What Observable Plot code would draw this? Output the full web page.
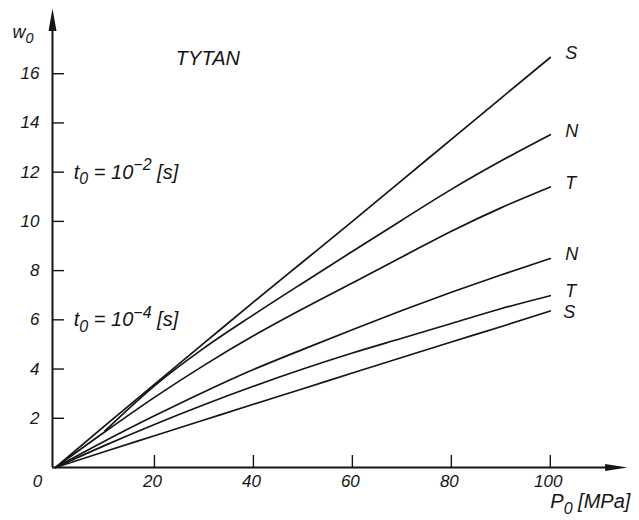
<!DOCTYPE html>
<html>
<head>
<meta charset="utf-8">
<script src="https://cdn.jsdelivr.net/npm/d3@7"></script>
<script src="https://cdn.jsdelivr.net/npm/@observablehq/plot@0.6"></script>
<style>
  html, body { margin: 0; padding: 0; background: #fff; }
  #chart svg { display: block; }
</style>
</head>
<body>
<div id="chart"></div>
<script>
// Pressure p0 [MPa] at which each curve is sampled
const pressure = [0, 10, 20, 30, 40, 50, 60, 70, 80, 90, 100];

// Displacement w0 for t0 = 10^-2 s
const sLong = [0, 1.70, 3.38, 5.05, 6.72, 8.36, 10.00, 11.67, 13.33, 15.00, 16.66];
const nLong = [null, 1.49, 3.32, 4.85, 6.20, 7.50, 8.78, 10.05, 11.30, 12.45, 13.52];
const tLong = [0, 1.45, 2.85, 4.15, 5.35, 6.45, 7.50, 8.55, 9.60, 10.55, 11.40];

// Displacement w0 for t0 = 10^-4 s
const nShort = [0, 1.08, 2.10, 3.07, 3.98, 4.80, 5.60, 6.38, 7.12, 7.82, 8.49];
const tShort = [0, 0.90, 1.75, 2.55, 3.30, 4.00, 4.65, 5.25, 5.85, 6.45, 6.98];
const sShort = [0, 0.65, 1.29, 1.93, 2.57, 3.20, 3.84, 4.47, 5.10, 5.72, 6.36];

const seriesLabels = ["S", "N", "T", "N", "T", "S"];
const seriesValues = [sLong, nLong, tLong, nShort, tShort, sShort];

// Axis ticks
const xTicks = [20, 40, 60, 80, 100];
const yTicks = [2, 4, 6, 8, 10, 12, 14, 16];

// Long-format rows for the line marks
const rows = [];
seriesValues.forEach((values, k) => {
  values.forEach((w, i) => {
    if (w != null) rows.push({key: k, label: seriesLabels[k], P: pressure[i], w});
  });
});

const xMin = -0.6, xMax = 115.6, yMax = 18.65;

// Narrow filled arrowheads for the axis ends (tip at the anchor point)
const arrowUp = {
  draw(ctx, size) {
    const r = Math.sqrt(size / Math.PI);
    ctx.moveTo(0, 0);
    ctx.lineTo(r * 0.5, r * 2.8);
    ctx.lineTo(-r * 0.5, r * 2.8);
    ctx.closePath();
  }
};
const arrowRight = {
  draw(ctx, size) {
    const r = Math.sqrt(size / Math.PI);
    ctx.moveTo(0, 0);
    ctx.lineTo(-r * 2.8, -r * 0.45);
    ctx.lineTo(-r * 2.8, r * 0.45);
    ctx.closePath();
  }
};

const ink = "#151515";
const lastKey = seriesValues.length - 1;

const chart = Plot.plot({
  width: 639,
  height: 520,
  marginLeft: 52,
  marginRight: 12,
  marginTop: 8,
  marginBottom: 53,
  x: {domain: [xMin, xMax], axis: null},
  y: {domain: [0, yMax], axis: null},
  style: {
    fontFamily: "'Liberation Sans', Arial, sans-serif",
    fontStyle: "italic",
    fontSize: "16px",
    background: "#fff",
    color: ink
  },
  marks: [
    // axes
    Plot.ruleY([0], {x1: xMin, x2: xMax - 2, stroke: ink, strokeWidth: 2}),
    Plot.ruleX([xMin], {y1: 0, y2: yMax - 0.5, stroke: ink, strokeWidth: 2}),
    Plot.dot([0], {x: xMax, y: 0, symbol: arrowRight, r: 8, fill: ink, stroke: null}),
    Plot.dot([0], {x: xMin, y: yMax, symbol: arrowUp, r: 8, fill: ink, stroke: null}),
    // inward ticks
    Plot.tickX(xTicks, {x: d => d, insetTop: 447, stroke: ink, strokeWidth: 1.4}),
    Plot.tickY(yTicks, {y: d => d, insetRight: 563, stroke: ink, strokeWidth: 1.4}),
    // tick labels
    Plot.text(xTicks, {x: d => d, y: 0, dy: 14, dx: -2, text: d => String(d), fontSize: 17, fill: ink}),
    Plot.text(yTicks, {x: xMin, y: d => d, dx: -13, text: d => String(d), textAnchor: "end", fontSize: 17, fill: ink}),
    Plot.text(["0"], {x: 0, y: 0, dx: -18, dy: 14, fontSize: 17, fill: ink}),
    // curves
    Plot.line(rows, {x: "P", y: "w", z: "key", curve: "monotone-x", stroke: ink, strokeWidth: 1.7}),
    Plot.text(rows.filter(d => d.key !== lastKey), Plot.selectLast({x: "P", y: "w", z: "key", text: "label", dx: 15, dy: -4, textAnchor: "start", fontSize: 18, fill: ink})),
    Plot.text(rows.filter(d => d.key === lastKey), Plot.selectLast({x: "P", y: "w", text: "label", dx: 13, dy: 1, textAnchor: "start", fontSize: 18, fill: ink})),
    // annotations
    Plot.text(["TYTAN"], {x: 30.8, y: 16.6, fontSize: 20, fill: ink, letterSpacing: "3px"}),
    Plot.text(["t0 = 10-2 [s]"], {x: 3.7, y: 12, textAnchor: "start", fontSize: 20, fill: ink}),
    Plot.text(["t0 = 10-4 [s]"], {x: 3.7, y: 6, textAnchor: "start", fontSize: 20, fill: ink}),
    Plot.text(["w0"], {frameAnchor: "top-left", dx: -40, dy: 17, textAnchor: "start", fontSize: 18, fill: ink}),
    Plot.text(["P0 [MPa]"], {x: 100, y: 0, dx: 0, dy: 34, textAnchor: "start", fontSize: 20, fill: ink})
  ]
});

document.getElementById("chart").appendChild(chart);

// Subscripts and superscripts inside annotation texts
const rich = {
  "w0": [["w"], ["0", "sub"]],
  "P0 [MPa]": [["P"], ["0", "sub"], [" [MPa]"]],
  "t0 = 10-2 [s]": [["t"], ["0", "sub"], [" = 10"], ["−2", "sup"], [" [s]"]],
  "t0 = 10-4 [s]": [["t"], ["0", "sub"], [" = 10"], ["−4", "sup"], [" [s]"]]
};
const scriptScale = 0.8;
d3.select(chart).selectAll("text").each(function () {
  const parts = rich[this.textContent];
  if (!parts) return;
  const el = d3.select(this);
  el.text(null);
  let shift = 0;
  for (const [s, kind] of parts) {
    const target = kind === "sub" ? 0.28 : kind === "sup" ? -0.42 : 0;
    const ts = el.append("tspan").text(s);
    if (kind) ts.attr("font-size", `${scriptScale * 100}%`).attr("dy", `${(target - shift) / scriptScale}em`);
    else ts.attr("dy", `${target - shift}em`);
    shift = target;
  }
});
</script>
</body>
</html>
